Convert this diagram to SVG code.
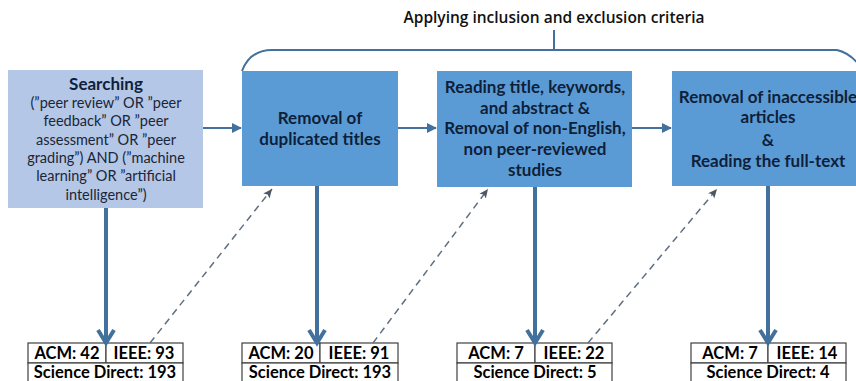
<svg xmlns="http://www.w3.org/2000/svg" width="856" height="381" viewBox="0 0 856 381">
<defs>
<style>
.box{fill:#5b9bd5;}
.sbox{fill:#b4c7e7;}
.bt{font-family:Lato,"Liberation Sans",sans-serif;font-weight:700;font-size:17px;fill:#0f1f3a;text-anchor:middle;}
.st{font-family:Lato,"Liberation Sans",sans-serif;font-size:14.5px;fill:#1a2538;text-anchor:middle;}
.tt{font-family:Lato,"Liberation Sans",sans-serif;font-weight:700;font-size:16.5px;fill:#000;text-anchor:middle;}
.cell{fill:#fff;stroke:#404040;stroke-width:1.2;}
.thick{stroke:#41719c;stroke-width:4;fill:none;}
.thin{stroke:#41719c;stroke-width:2;fill:none;}
.dash{stroke:#5f6f80;stroke-width:1.5;stroke-dasharray:7 5;fill:none;}
</style>
<marker id="tri" markerWidth="10" markerHeight="10" refX="9" refY="5" orient="auto" markerUnits="userSpaceOnUse">
<path d="M0,0 L10,5 L0,10 z" fill="#41719c"/>
</marker>
<marker id="chev" markerWidth="20" markerHeight="20" refX="16" refY="10" orient="auto" markerUnits="userSpaceOnUse">
<path d="M3,2 L16,10 L3,18" fill="none" stroke="#41719c" stroke-width="4"/>
</marker>
<marker id="dtri" markerWidth="10" markerHeight="10" refX="9" refY="5" orient="auto" markerUnits="userSpaceOnUse">
<path d="M0,1 L9,5 L0,9 L2,5 z" fill="#4a5868"/>
</marker>
</defs>
<rect width="856" height="381" fill="#fff"/>

<g id="title">
<text x="554" y="23" style="font-family:'Open Sans','Liberation Sans',sans-serif;font-weight:600;font-size:15.5px;fill:#111;text-anchor:middle;">Applying inclusion and exclusion criteria</text>
</g>

<g id="bracket">
<path d="M242,71 Q250,50 272,50 L837,50 Q850,53 860,66" class="thin"/>
<line x1="554" y1="30" x2="554" y2="50" class="thin"/>
</g>

<g id="searching">
<rect x="8" y="70" width="195" height="138" class="sbox"/>
<text x="106" y="90" class="bt">Searching</text>
<text x="106" y="108" class="st">(”peer review” OR ”peer</text>
<text x="106" y="126" class="st">feedback” OR ”peer</text>
<text x="106" y="145" class="st">assessment” OR ”peer</text>
<text x="106" y="163" class="st">grading”) AND (”machine</text>
<text x="106" y="181" class="st">learning” OR ”artificial</text>
<text x="106" y="200" class="st">intelligence”)</text>
</g>

<g id="dedup">
<rect x="242" y="71" width="156" height="115" class="box"/>
<text x="320" y="124" class="bt">Removal of</text>
<text x="320" y="145" class="bt">duplicated titles</text>
</g>

<g id="screening">
<rect x="437" y="71" width="195" height="116" class="box"/>
<text x="535" y="93" class="bt">Reading title, keywords,</text>
<text x="535" y="114" class="bt">and abstract &amp;</text>
<text x="535" y="134" class="bt">Removal of non-English,</text>
<text x="535" y="155" class="bt">non peer-reviewed</text>
<text x="535" y="176" class="bt">studies</text>
</g>

<g id="fulltext">
<rect x="672" y="71" width="200" height="115" class="box"/>
<text x="768" y="103" class="bt">Removal of inaccessible</text>
<text x="768" y="123" class="bt">articles</text>
<text x="768" y="146" class="bt">&amp;</text>
<text x="768" y="167" class="bt">Reading the full-text</text>
</g>

<g id="count1">
<rect x="28" y="343" width="78" height="20" class="cell"/>
<rect x="106" y="343" width="77" height="20" class="cell"/>
<rect x="28" y="363" width="155" height="30" class="cell"/>
<text x="67" y="359" class="tt">ACM: 42</text>
<text x="144" y="359" class="tt">IEEE: 93</text>
<text x="105" y="378" class="tt">Science Direct: 193</text>
</g>

<g id="count2">
<rect x="242" y="343" width="78" height="20" class="cell"/>
<rect x="320" y="343" width="78" height="20" class="cell"/>
<rect x="242" y="363" width="156" height="30" class="cell"/>
<text x="281" y="359" class="tt">ACM: 20</text>
<text x="359" y="359" class="tt">IEEE: 91</text>
<text x="320" y="378" class="tt">Science Direct: 193</text>
</g>

<g id="count3">
<rect x="457" y="343" width="78" height="20" class="cell"/>
<rect x="535" y="343" width="77" height="20" class="cell"/>
<rect x="457" y="363" width="155" height="30" class="cell"/>
<text x="496" y="359" class="tt">ACM: 7</text>
<text x="574" y="359" class="tt">IEEE: 22</text>
<text x="535" y="378" class="tt">Science Direct: 5</text>
</g>

<g id="count4">
<rect x="691" y="343" width="77" height="20" class="cell"/>
<rect x="768" y="343" width="78" height="20" class="cell"/>
<rect x="691" y="363" width="155" height="30" class="cell"/>
<text x="730" y="359" class="tt">ACM: 7</text>
<text x="807" y="359" class="tt">IEEE: 14</text>
<text x="768" y="378" class="tt">Science Direct: 4</text>
</g>

<g id="connectors">
<line x1="203" y1="128" x2="241" y2="128" class="thin" marker-end="url(#tri)"/>
<line x1="398" y1="128" x2="436" y2="128" class="thin" marker-end="url(#tri)"/>
<line x1="632" y1="128" x2="671" y2="128" class="thin" marker-end="url(#tri)"/>
<line x1="106" y1="208" x2="106" y2="343" class="thick" marker-end="url(#chev)"/>
<line x1="317" y1="186" x2="317" y2="343" class="thick" marker-end="url(#chev)"/>
<line x1="535" y1="187" x2="535" y2="343" class="thick" marker-end="url(#chev)"/>
<line x1="768" y1="186" x2="768" y2="343" class="thick" marker-end="url(#chev)"/>
<line x1="150" y1="343" x2="272" y2="189" class="dash" marker-end="url(#dtri)"/>
<line x1="373" y1="343" x2="488" y2="189" class="dash" marker-end="url(#dtri)"/>
<line x1="588" y1="343" x2="717" y2="189" class="dash" marker-end="url(#dtri)"/>
</g>
</svg>
